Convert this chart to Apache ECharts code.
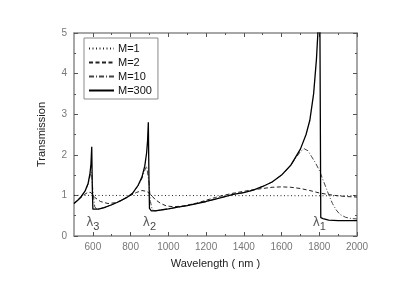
<!DOCTYPE html>
<html>
<head>
<meta charset="utf-8">
<script src="https://cdn.jsdelivr.net/npm/echarts@6/dist/echarts.min.js"></script>
<style>html,body{margin:0;padding:0;background:#fff}#c{width:415px;height:283px}</style>
</head>
<body>
<div id="c"></div>
<script>
// ---- data ----
const seriesNames = ['M=1', 'M=2', 'M=10', 'M=300'];

const x1 = [500, 2000];
const y1 = [1.0, 0.99];

const x2 = [500, 530, 555, 575, 590, 610, 640, 680, 720, 760, 800, 830, 860, 885, 905, 930, 960, 990, 1030, 1080, 1150, 1200, 1250, 1300, 1350, 1400, 1450, 1500, 1550, 1600, 1650, 1700, 1750, 1800, 1850, 1900, 1950, 2000];
const y2 = [0.80, 0.92, 1.02, 1.08, 1.07, 0.95, 0.85, 0.80, 0.82, 0.90, 1.00, 1.07, 1.12, 1.10, 1.03, 0.90, 0.80, 0.74, 0.72, 0.74, 0.81, 0.88, 0.95, 1.01, 1.06, 1.10, 1.14, 1.17, 1.20, 1.21, 1.20, 1.17, 1.12, 1.06, 1.02, 0.99, 0.97, 0.96];

const x10 = [500, 520, 540, 560, 575, 585, 590, 594, 600, 610, 620, 660, 700, 740, 780, 810, 840, 860, 875, 885, 892, 898, 905, 915, 930, 960, 1000, 1050, 1100, 1150, 1200, 1250, 1300, 1350, 1400, 1450, 1500, 1550, 1600, 1650, 1680, 1700, 1720, 1740, 1760, 1780, 1800, 1820, 1850, 1870, 1890, 1910, 1940, 1970, 2000];
const y10 = [0.80, 0.88, 0.98, 1.12, 1.28, 1.48, 1.58, 1.52, 1.10, 0.72, 0.66, 0.70, 0.77, 0.85, 0.95, 1.05, 1.24, 1.42, 1.62, 1.72, 1.68, 1.30, 0.85, 0.64, 0.62, 0.64, 0.67, 0.71, 0.75, 0.80, 0.85, 0.91, 0.97, 1.03, 1.07, 1.13, 1.22, 1.33, 1.50, 1.75, 1.95, 2.08, 2.15, 2.10, 1.95, 1.80, 1.62, 1.38, 1.02, 0.80, 0.64, 0.53, 0.46, 0.43, 0.42];

const x300 = [500, 520, 540, 560, 575, 585, 590, 594, 597, 600, 610, 630, 660, 700, 740, 780, 810, 840, 860, 875, 885, 890, 894, 897, 900, 910, 930, 960, 1000, 1050, 1100, 1150, 1200, 1250, 1300, 1350, 1400, 1450, 1500, 1550, 1600, 1650, 1700, 1730, 1750, 1770, 1785, 1795, 1803, 1808, 1820, 1850, 1900, 1950, 2000];
const y300 = [0.80, 0.88, 0.98, 1.12, 1.30, 1.55, 1.78, 2.20, 1.20, 0.66, 0.65, 0.66, 0.70, 0.77, 0.85, 0.95, 1.05, 1.25, 1.45, 1.72, 2.05, 2.35, 2.80, 1.50, 0.68, 0.62, 0.62, 0.64, 0.67, 0.71, 0.75, 0.80, 0.85, 0.91, 0.97, 1.03, 1.07, 1.13, 1.22, 1.33, 1.50, 1.75, 2.14, 2.50, 2.85, 3.50, 4.35, 5.20, 5.60, 0.45, 0.43, 0.39, 0.38, 0.38, 0.38];

const xTickLabels = [600, 800, 1000, 1200, 1400, 1600, 1800, 2000];
const xMinorTicks = [700, 900, 1100, 1300, 1500, 1700, 1900];

const lambdaX = [600, 900, 1800];
const lambdaY = [0.30, 0.30, 0.30];
const lambdaSub = ['3', '2', '1'];

// ---- chart ----
const zip = (xs, ys) => xs.map((x, i) => [x, ys[i]]);
const FONT = 'Liberation Sans, Arial, sans-serif';
const axisGray = '#8a8a8a';

const chart = echarts.init(document.getElementById('c'), null, { renderer: 'canvas' });

const baseX = {
  type: 'value', min: 500, max: 2000, gridIndex: 0,
  splitLine: { show: false }
};

const option = {
  animation: false,
  backgroundColor: '#fff',
  grid: { left: 74, right: 58, top: 33, bottom: 47 },
  legend: {
    data: seriesNames,
    orient: 'vertical',
    left: 84, top: 38,
    padding: [5, 6, 3, 4],
    itemGap: 3,
    itemWidth: 25, itemHeight: 10,
    backgroundColor: '#fff',
    borderColor: '#8a8a8a', borderWidth: 1, borderRadius: 0,
    itemStyle: { opacity: 0 },
    textStyle: { fontFamily: FONT, fontSize: 11, color: '#111', padding: [0, 0, 0, -1] }
  },
  xAxis: [
    Object.assign({}, baseX, {
      position: 'bottom',
      name: 'Wavelength ( nm )', nameLocation: 'middle', nameGap: 22,
      nameTextStyle: { fontFamily: FONT, fontSize: 11, color: '#222' },
      axisLine: { show: true, lineStyle: { color: axisGray, width: 1.5 } },
      axisTick: { show: true, inside: true, length: 4, customValues: xTickLabels, lineStyle: { color: '#555' } },
      axisLabel: { customValues: xTickLabels, formatter: v => String(v), fontFamily: FONT, fontSize: 10, color: '#777', margin: 6 }
    }),
    Object.assign({}, baseX, {
      position: 'bottom',
      axisLine: { show: false },
      axisTick: { show: true, inside: true, length: 2, customValues: xMinorTicks, lineStyle: { color: '#555' } },
      axisLabel: { show: false }
    }),
    Object.assign({}, baseX, {
      position: 'top',
      axisLine: { show: true, lineStyle: { color: axisGray, width: 1.5 } },
      axisTick: { show: true, inside: true, length: 4, customValues: xTickLabels, lineStyle: { color: '#555' } },
      axisLabel: { show: false }
    }),
    Object.assign({}, baseX, {
      position: 'top',
      axisLine: { show: false },
      axisTick: { show: true, inside: true, length: 2, customValues: xMinorTicks, lineStyle: { color: '#555' } },
      axisLabel: { show: false }
    })
  ],
  yAxis: [
    {
      type: 'value', min: 0, max: 5, interval: 1, position: 'left',
      name: 'Transmission', nameLocation: 'middle', nameGap: 27, nameRotate: 90,
      nameTextStyle: { fontFamily: FONT, fontSize: 11, color: '#222' },
      axisLine: { show: true, lineStyle: { color: axisGray, width: 1.5 } },
      axisTick: { show: true, inside: true, length: 4, lineStyle: { color: '#555' } },
      minorTick: { show: true, splitNumber: 2, length: 2, lineStyle: { color: '#555' } },
      axisLabel: { fontFamily: FONT, fontSize: 10, color: '#777', margin: 7 },
      splitLine: { show: false }
    },
    {
      type: 'value', min: 0, max: 5, interval: 1, position: 'right',
      axisLine: { show: true, lineStyle: { color: axisGray, width: 1.5 } },
      axisTick: { show: true, inside: true, length: 4, lineStyle: { color: '#555' } },
      minorTick: { show: true, splitNumber: 2, length: 2, lineStyle: { color: '#555' } },
      axisLabel: { show: false },
      splitLine: { show: false }
    }
  ],
  series: [
    {
      name: 'M=1', type: 'line', symbol: 'none', clip: true, z: 3,
      data: zip(x1, y1),
      lineStyle: { color: '#222', width: 1, type: [1, 2.5] },
      itemStyle: { color: '#222' }
    },
    {
      name: 'M=2', type: 'line', symbol: 'none', clip: true, z: 3,
      data: zip(x2, y2),
      lineStyle: { color: '#222', width: 1, type: [4, 2.5] },
      itemStyle: { color: '#222' }
    },
    {
      name: 'M=10', type: 'line', symbol: 'none', clip: true, z: 3,
      data: zip(x10, y10),
      lineStyle: { color: '#444', width: 1, type: [5, 2, 1, 2] },
      itemStyle: { color: '#444' }
    },
    {
      name: 'M=300', type: 'line', symbol: 'none', clip: true, z: 4,
      data: zip(x300, y300),
      lineStyle: { color: '#000', width: 1.3, type: 'solid' },
      itemStyle: { color: '#000' }
    },
    {
      name: 'lambda', type: 'scatter', symbolSize: 1, z: 5,
      itemStyle: { color: 'rgba(0,0,0,0)' },
      data: lambdaX.map((x, i) => ({ value: [x, lambdaY[i]], sub: lambdaSub[i] })),
      label: {
        show: true, position: 'inside',
        formatter: p => '{l|λ}{s|' + p.data.sub + '}',
        rich: {
          l: { fontFamily: 'DejaVu Sans, sans-serif', fontSize: 12, color: '#333', padding: [0, 0, 2, 0] },
          s: { fontFamily: FONT, fontSize: 11, color: '#111', padding: [6, 0, 0, 0] }
        }
      }
    }
  ]
};
chart.setOption(option);
</script>
</body>
</html>
